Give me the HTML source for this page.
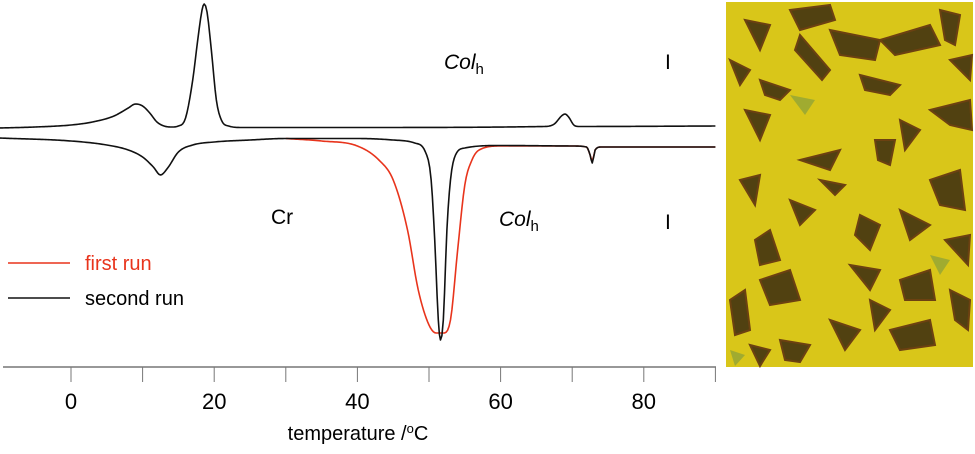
<!DOCTYPE html>
<html><head><meta charset="utf-8"><style>
body{margin:0;background:#fff;width:975px;height:449px;overflow:hidden}
svg text{font-family:"Liberation Sans",sans-serif}
</style></head><body>
<svg id="c" width="975" height="449" viewBox="0 0 975 449">
<g id="photo">
<rect x="726" y="2" width="247" height="365" fill="#d9c619"/>
<g fill="#3a2a10" opacity="0.85" stroke="#5a2a10" stroke-width="2">
<polygon points="790,10 830,5 835,20 800,30"/><polygon points="830,30 880,40 875,60 840,55"/>
<polygon points="745,20 770,25 760,50"/><polygon points="800,35 830,70 822,80 795,50"/>
<polygon points="880,40 930,25 940,45 895,55"/><polygon points="940,10 960,15 955,45 945,40"/>
<polygon points="860,75 900,85 890,95 865,90"/><polygon points="760,80 790,90 780,100 765,95"/>
<polygon points="930,110 970,100 972,130 950,125"/><polygon points="745,110 770,115 760,140"/>
<polygon points="800,160 840,150 830,170"/><polygon points="875,140 895,140 890,165 878,160"/>
<polygon points="820,180 845,185 835,195"/><polygon points="930,180 960,170 965,210 940,205"/>
<polygon points="755,240 770,230 780,260 760,265"/><polygon points="860,215 880,225 870,250 855,235"/>
<polygon points="900,210 930,225 910,240"/><polygon points="760,280 790,270 800,300 770,305"/>
<polygon points="850,265 880,270 870,290"/><polygon points="900,280 930,270 935,300 905,300"/>
<polygon points="730,300 745,290 750,330 735,335"/><polygon points="830,320 860,330 845,350"/>
<polygon points="890,330 930,320 935,345 900,350"/><polygon points="950,290 970,300 968,330 955,320"/>
<polygon points="780,340 810,345 800,362 785,360"/>
<polygon points="730,60 750,70 740,85"/><polygon points="900,120 920,130 905,150"/>
<polygon points="950,60 972,55 970,80"/><polygon points="740,180 760,175 755,205"/>
<polygon points="790,200 815,210 800,225"/><polygon points="945,240 970,235 968,265"/>
<polygon points="870,300 890,310 875,330"/><polygon points="750,345 770,350 760,366"/>
</g>
<g fill="#7a9a40" opacity="0.6"><polygon points="790,95 815,100 805,115"/><polygon points="930,255 950,260 940,275"/><polygon points="730,350 745,355 735,366"/></g>
</g>
<line x1="3" y1="367" x2="716" y2="367" stroke="#777" stroke-width="1.5"/>
<g id="ticks"></g>
<g id="curves"></g>
<text x="358" y="440" font-size="20" text-anchor="middle">temperature /<tspan baseline-shift="super" font-size="13">o</tspan>C</text>
<text x="444" y="69" font-size="21" font-style="italic">Col<tspan font-size="15" dy="5" font-style="normal">h</tspan></text>
<text x="665" y="69" font-size="21">I</text>
<text x="271" y="224" font-size="21">Cr</text>
<text x="499" y="226" font-size="21" font-style="italic">Col<tspan font-size="15" dy="5" font-style="normal">h</tspan></text>
<text x="665" y="229" font-size="21">I</text>
<g>
<line x1="8" y1="263" x2="70" y2="263" stroke="#e8341c" stroke-width="1.5"/>
<text x="85" y="270" font-size="20" fill="#e8341c">first run</text>
<line x1="8" y1="298" x2="70" y2="298" stroke="#111" stroke-width="1.5"/>
<text x="85" y="305" font-size="20">second run</text>
</g>
</svg>
<script>
const tickValues=[-10,0,10,20,30,40,50,60,70,80,90];
const tickLabels=["0","20","40","60","80"];
const heatT=[-10,-5,0,3,6,8,9,10,11,12,13,14,15,16,17,17.7,18.3,18.6,19,19.6,20.3,21,22,24,40,66,67.5,68.5,69,69.5,70.3,71,90];
const heatV=[239,240,242,245,251,259,263,261,254,245,241,240,241,249,287,327,357,363,355,317,267,247,241,239.5,239.5,240.5,243,251,253,250,241.5,240.5,241];
const coolT=[-10,0,5,8,10,11.5,12.5,13.5,15,17,20,25,30,40,45,48,49.5,50.3,50.8,51.3,51.6,52,52.5,53,53.7,55,60,70,72,72.5,72.8,73.2,74,90];
const coolV=[229,226,222,217,210,200,192,199,215,222,225,227,228.5,228.5,227,224,215,187,127,47,27,47,137,187,212,219,221.5,221,220,212,204,217,220,220];
const firstT=[30,35,40,43,45,47,48.5,50,51,52,53,54,55,56,57,60,70,72,72.5,72.8,73.2,74,90];
const firstV=[228.5,226,221,207,187,137,77,42,34,34,47,117,182,207,217,221,221,220,212,206,217,220,220];
const X=t=>71+7.16*t;
const Y=v=>367-v;
const NS="http://www.w3.org/2000/svg";
const tg=document.getElementById('ticks');
tickValues.forEach(t=>{const l=document.createElementNS(NS,'line');


l.setAttribute('x1',X(t));l.setAttribute('x2',X(t));l.setAttribute('y1',367);l.setAttribute('y2',382);l.setAttribute('stroke','#777');tg.appendChild(l);});
tickLabels.forEach(s=>{const t=document.createElementNS(NS,'text');


t.setAttribute('x',X(+s));t.setAttribute('y',409);t.setAttribute('font-size','22');t.setAttribute('text-anchor','middle');t.textContent=s;tg.appendChild(t);});
// monotone cubic (Fritsch-Carlson) sampled densely in T
function path(T,V){const n=T.length,d=[],m=new Array(n);
for(let i=0;i<n-1;i++)d.push((V[i+1]-V[i])/(T[i+1]-T[i]));
m[0]=d[0];m[n-1]=d[n-2];
for(let i=1;i<n-1;i++){m[i]=(d[i-1]*d[i]<=0)?0:(d[i-1]+d[i])/2;}
for(let i=0;i<n-1;i++){if(d[i]===0){m[i]=0;m[i+1]=0;continue;}const a=m[i]/d[i],b=m[i+1]/d[i],s=a*a+b*b;if(s>9){const t=3/Math.sqrt(s);m[i]=t*a*d[i];m[i+1]=t*b*d[i];}}
let out='M'+X(T[0])+','+Y(V[0]);
for(let i=0;i<n-1;i++){const h=T[i+1]-T[i];const steps=Math.max(2,Math.ceil(h*7.16/1.5));
for(let k=1;k<=steps;k++){const s=k/steps,s2=s*s,s3=s2*s;
const v=(2*s3-3*s2+1)*V[i]+(s3-2*s2+s)*h*m[i]+(-2*s3+3*s2)*V[i+1]+(s3-s2)*h*m[i+1];
out+=' L'+X(T[i]+s*h).toFixed(2)+','+Y(v).toFixed(2);}}
return out;}
const cg=document.getElementById('curves');
function add(T,V,col,name){const e=document.createElementNS(NS,'path');


e.setAttribute('d',path(T,V));e.setAttribute('fill','none');e.setAttribute('stroke',col);e.setAttribute('stroke-width','1.6');e.setAttribute('stroke-linejoin','round');cg.appendChild(e);}
add(firstT,firstV,'#e8341c','first-run-curve');
add(coolT,coolV,'#111','second-run-cooling-curve');
add(heatT,heatV,'#111','second-run-heating-curve');
</script>
</body></html>
